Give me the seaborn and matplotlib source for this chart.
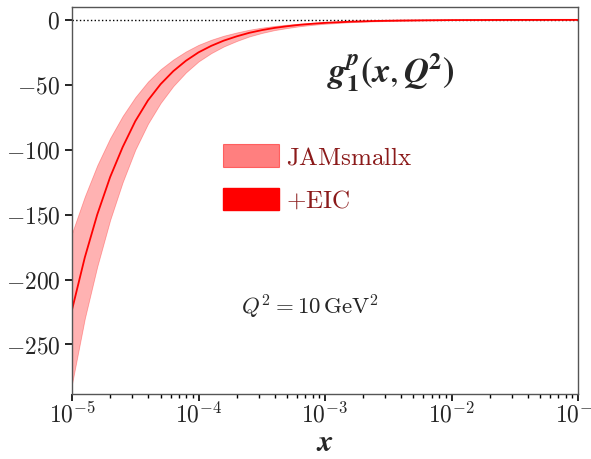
import matplotlib
matplotlib.use('Agg')
import matplotlib.pyplot as plt
import seaborn as sns
import numpy as np
import pandas as pd
from matplotlib.patches import Patch
from matplotlib.ticker import FixedLocator, FuncFormatter, LogLocator

# values
x_vals = [1.00e-5, 1.26e-5, 1.58e-5, 2.00e-5, 2.51e-5, 3.16e-5, 3.98e-5, 5.01e-5, 6.31e-5, 7.94e-5,
          1.00e-4, 1.26e-4, 1.58e-4, 2.00e-4, 2.51e-4, 3.16e-4, 3.98e-4, 5.01e-4, 6.31e-4, 7.94e-4,
          1.00e-3, 1.58e-3, 2.51e-3, 3.98e-3, 6.31e-3, 1e-2, 3e-2, 1e-1]
g1_central = [-223, -183, -150, -121, -98, -78, -62, -49.5, -39.5, -31.5,
              -25, -20, -16, -12.7, -10, -7.9, -6.2, -4.9, -3.8, -3.0,
              -2.3, -1.4, -0.85, -0.5, -0.3, -0.15, -0.03, 0]
g1_upper = [-164, -136, -112, -91, -74, -59.5, -47.5, -38, -30.5, -24.3,
            -19.2, -15.3, -12.2, -9.7, -7.6, -6.0, -4.7, -3.7, -2.9, -2.3,
            -1.75, -1.05, -0.64, -0.38, -0.22, -0.11, -0.02, 0]
g1_lower = [-280, -230, -190, -154, -125, -100, -80, -64, -51, -40.5,
            -32, -25.6, -20.5, -16.3, -12.8, -10.1, -7.9, -6.3, -4.9, -3.85,
            -3.0, -1.8, -1.1, -0.65, -0.39, -0.19, -0.04, 0]
y_ticks = [0, -50, -100, -150, -200, -250]
legend_labels = ['JAMsmallx', '+EIC']

df = pd.DataFrame({'x': x_vals, 'g1': g1_central, 'up': g1_upper, 'lo': g1_lower})

sns.set_theme(style='ticks')
plt.rcParams['mathtext.fontset'] = 'cm'
plt.rcParams['font.family'] = ['DejaVu Serif']
plt.rcParams['axes.unicode_minus'] = True

fig = plt.figure(figsize=(5.91, 4.59), dpi=100)
ax = fig.add_axes([0.122, 0.142, 0.856, 0.843])

ax.fill_between(df.x, df.lo, df.up, color='red', alpha=0.3, linewidth=0.6)
sns.lineplot(data=df, x='x', y='g1', color='red', linewidth=1.3, ax=ax)
ax.axhline(0, color='black', linestyle=':', linewidth=1.0, zorder=0)

ax.set_xscale('log')
ax.set_xlim(1e-5, 1e-1)
ax.set_ylim(-288, 10)

ax.xaxis.set_major_locator(LogLocator(base=10, numticks=10))
ax.xaxis.set_minor_locator(LogLocator(base=10, subs=np.arange(2, 10), numticks=50))
ax.xaxis.set_major_formatter(FuncFormatter(lambda v, p: r'$10^{%d}$' % round(np.log10(v))))
ax.xaxis.set_minor_formatter(FuncFormatter(lambda v, p: ''))
ax.yaxis.set_major_locator(FixedLocator(y_ticks))
ax.yaxis.set_major_formatter(FuncFormatter(lambda v, p: r'$%d$' % v))

ax.tick_params(axis='both', which='major', labelsize=17, length=5, width=1.2, color='black')
ax.tick_params(axis='x', which='major', pad=1)
ax.tick_params(axis='x', which='minor', length=3, width=1.0, color='black')
for s in ax.spines.values():
    s.set_color('#555555')
    s.set_linewidth(1.0)

ax.set_xlabel(r'$\mathbfit{x}$', fontsize=22, labelpad=0, math_fontfamily='stix')
ax.set_ylabel('')

ax.text(0.63, 0.832, r'$\mathbfit{g}_\mathbf{1}^\mathbfit{p}\mathbf{(}\mathbfit{x},\mathbfit{Q}^\mathbf{2}\mathbf{)}$',
        transform=ax.transAxes, fontsize=25, ha='center', va='center', math_fontfamily='stix')
ax.text(0.47, 0.225, r'$Q^2 = 10\,\mathrm{GeV}^2$', transform=ax.transAxes,
        fontsize=16.5, ha='center', va='center')

handles = [Patch(facecolor='red', alpha=0.5, edgecolor='red', linewidth=0.8),
           Patch(facecolor='red', edgecolor='red')]
leg = ax.legend(handles, [r'$\mathrm{%s}$' % legend_labels[0], r'$\mathrm{+EIC}$'],
                loc='upper left', bbox_to_anchor=(0.253, 0.703), frameon=False,
                fontsize=18, handlelength=2.25, handleheight=1.0,
                handletextpad=0.3, labelspacing=0.75)
for t in leg.get_texts():
    t.set_color('#8b1a1a')

fig.savefig('out.png', dpi=100)
